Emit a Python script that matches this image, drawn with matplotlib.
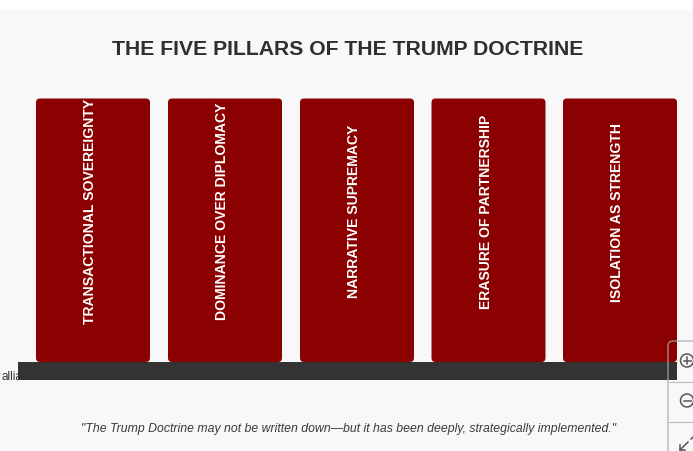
import matplotlib
matplotlib.use("Agg")
import matplotlib.pyplot as plt
from matplotlib.patches import FancyBboxPatch, Rectangle, Circle

title = "THE FIVE PILLARS OF THE TRUMP DOCTRINE"
pillars = ["TRANSACTIONAL SOVEREIGNTY", "DOMINANCE OVER DIPLOMACY", "NARRATIVE SUPREMACY",
           "ERASURE OF PARTNERSHIP", "ISOLATION AS STRENGTH"]
quote = "\"The Trump Doctrine may not be written down\u2014but it has been deeply, strategically implemented.\""
hidden = "alliances"
label_offsets = [208.7, 208.5, 208.7, 209, 209]

plt.rcParams['font.family'] = ['Liberation Sans', 'DejaVu Sans']
W, H = 693, 452
fig = plt.figure(figsize=(W / 100, H / 100), dpi=100, facecolor='white')
ax = fig.add_axes([0, 0, 1, 1])
ax.set_xlim(0, W)
ax.set_ylim(H - 3, -3)
ax.axis('off')

ax.add_patch(Rectangle((0, 8), W, H - 8, fc='#f8f8f8', ec='none', zorder=0))
ax.text(347.7, 46, title, ha='center', va='center', fontsize=15.2, fontweight='bold', color='#2f2f2f', zorder=3)

lefts = [36, 168, 300, 431.5, 563]
for x0, lab, cy in zip(lefts, pillars, label_offsets):
    ax.add_patch(FancyBboxPatch((x0 + 3, 99.5), 114 - 6, 257.5,
                                boxstyle="round,pad=3,rounding_size=4", fc='#8b0000', ec='none', zorder=2))
    ax.text(x0 + 54, cy, lab, rotation=90, ha='center', va='center', fontsize=10.1,
            fontweight='bold', color='white', zorder=4)

ax.text(2, 374, hidden, ha='left', va='center', fontsize=8.4, color='#333333', zorder=1)
ax.add_patch(Rectangle((18, 360), 659, 18, fc='#333333', ec='none', zorder=3))
ax.text(348.5, 426, quote, ha='center', va='center', fontsize=8.82, style='italic', color='#3a3a3a', zorder=3)

# zoom control panel at lower right
ax.add_patch(FancyBboxPatch((668, 339), 40, 130, boxstyle="round,pad=0,rounding_size=5",
                            fc='none', ec='#aaaaaa', lw=0.8, zorder=5, clip_on=True))
ax.plot([668, 693], [380, 380], color='#bbbbbb', lw=0.8, zorder=5)
ax.plot([668, 693], [419.5, 419.5], color='#bbbbbb', lw=0.8, zorder=5)
for cy in (358.5, 398.5):
    ax.add_patch(Circle((687, cy), 6.5, fc='none', ec='#555555', lw=1.1, zorder=6))
    ax.plot([683.5, 690.5], [cy, cy], color='#555555', lw=1.1, zorder=6)
ax.plot([687, 687], [355, 362], color='#555555', lw=1.1, zorder=6)
ax.plot([680, 688], [448, 440], color='#555555', lw=1.1, zorder=6)
ax.plot([680, 680, 685], [443, 448, 448], color='#555555', lw=1.1, zorder=6)
ax.plot([691, 693], [437, 435], color='#555555', lw=1.1, zorder=6)

fig.savefig("out.png", dpi=100, facecolor=fig.get_facecolor())
